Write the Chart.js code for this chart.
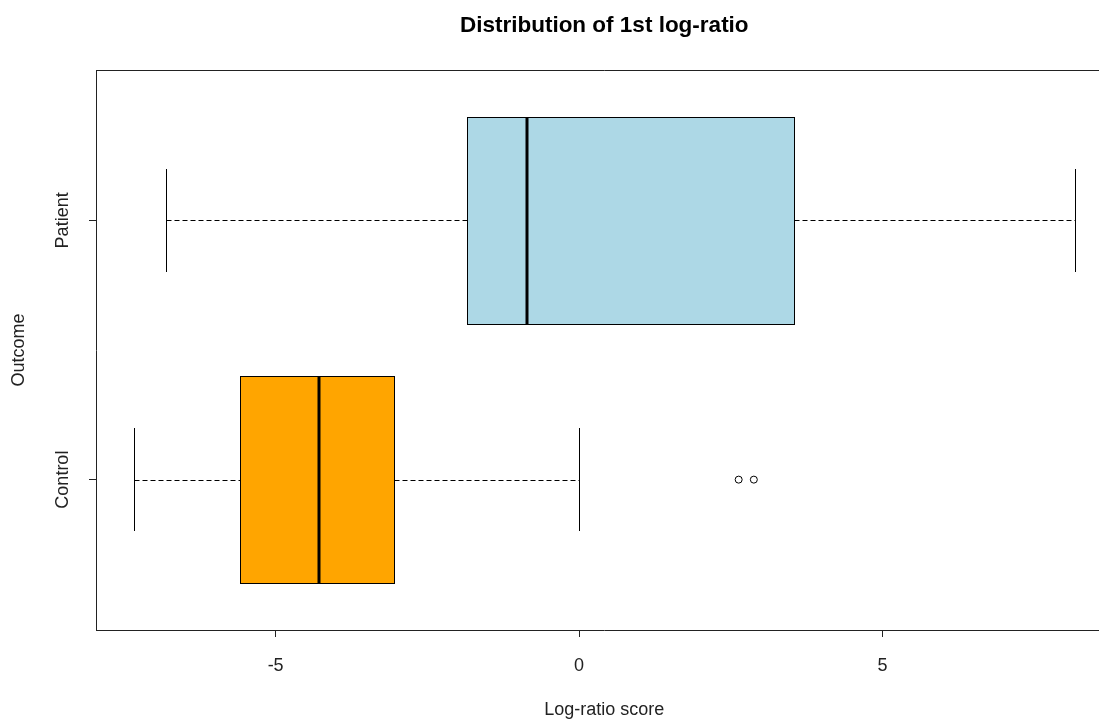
<!DOCTYPE html>
<html>
<head>
<meta charset="utf-8">
<script src="https://cdn.jsdelivr.net/npm/chart.js@4.4.1/dist/chart.umd.min.js"></script>
<style>
  html, body { margin: 0; padding: 0; background: #fff; overflow: hidden; }
</style>
</head>
<body>
<canvas id="box" width="1117" height="719"></canvas>
<script>
(() => {
  // data
  const groups = ["Control", "Patient"];
  const whiskerLow = [-7.34, -6.81];
  const q1 = [-5.58, -1.85];
  const median = [-4.29, -0.86];
  const q3 = [-3.05, 3.54];
  const whiskerHigh = [0.0, 8.17];
  const boxColors = ["#FFA500", "#ADD8E6"];
  const outlierValues = [2.63, 2.88];
  const outlierGroup = ["Control", "Control"];
  const xTicks = [-5, 0, 5];
  const chartTitle = "Distribution of 1st log-ratio";

  const BOX_HALF = 0.4;
  const STAPLE_HALF = 0.2;
  const FONT = "'Liberation Sans', Arial, sans-serif";
  const crisp = (v) => Math.round(v) + 0.5;

  // boxes, whiskers, staples, medians, top frame line and the title (centred over the plot like R)
  const boxPlugin = {
    id: "boxes",
    beforeDatasetsDraw: (chart) => {
      const { ctx, chartArea, scales: { x, y } } = chart;
      ctx.save();
      ctx.fillStyle = "#000";
      ctx.font = "bold 22.5px " + FONT;
      ctx.textAlign = "center";
      ctx.textBaseline = "alphabetic";
      ctx.fillText(chartTitle, (chartArea.left + chartArea.right) / 2, 32);

      ctx.strokeStyle = "#222";
      ctx.lineWidth = 1;
      ctx.beginPath();
      ctx.moveTo(chartArea.left, crisp(chartArea.top));
      ctx.lineTo(chartArea.right, crisp(chartArea.top));
      ctx.stroke();

      groups.forEach((g, i) => {
        const pos = i + 1;
        const yc = crisp(y.getPixelForValue(pos));
        const yTop = Math.round(y.getPixelForValue(pos + BOX_HALF));
        const yBot = Math.round(y.getPixelForValue(pos - BOX_HALF));
        const sTop = Math.round(y.getPixelForValue(pos + STAPLE_HALF));
        const sBot = Math.round(y.getPixelForValue(pos - STAPLE_HALF));
        const xLo = crisp(x.getPixelForValue(whiskerLow[i]));
        const xQ1 = crisp(x.getPixelForValue(q1[i]));
        const xMed = Math.round(x.getPixelForValue(median[i]));
        const xQ3 = crisp(x.getPixelForValue(q3[i]));
        const xHi = crisp(x.getPixelForValue(whiskerHigh[i]));

        ctx.strokeStyle = "#000";
        ctx.lineWidth = 1;

        // dashed whiskers
        ctx.setLineDash([5, 3]);
        ctx.beginPath();
        ctx.moveTo(xLo, yc); ctx.lineTo(xQ1, yc);
        ctx.moveTo(xQ3, yc); ctx.lineTo(xHi, yc);
        ctx.stroke();
        ctx.setLineDash([]);

        // staples
        ctx.beginPath();
        ctx.moveTo(xLo, sTop); ctx.lineTo(xLo, sBot);
        ctx.moveTo(xHi, sTop); ctx.lineTo(xHi, sBot);
        ctx.stroke();

        // box
        ctx.fillStyle = boxColors[i];
        ctx.fillRect(xQ1, yTop + 0.5, xQ3 - xQ1, yBot - yTop);
        ctx.strokeRect(xQ1, yTop + 0.5, xQ3 - xQ1, yBot - yTop);

        // median
        ctx.lineWidth = 3;
        ctx.beginPath();
        ctx.moveTo(xMed, yTop + 1);
        ctx.lineTo(xMed, yBot);
        ctx.stroke();
      });
      ctx.restore();
    }
  };

  const ctx = document.getElementById("box").getContext("2d");
  new Chart(ctx, {
    type: "scatter",
    data: {
      datasets: [{
        label: "Outliers",
        data: outlierValues.map((v, i) => ({ x: v, y: groups.indexOf(outlierGroup[i]) + 1 })),
        pointStyle: "circle",
        pointRadius: 3.5,
        pointHoverRadius: 3.5,
        borderColor: "#000",
        borderWidth: 1,
        backgroundColor: "rgba(0,0,0,0)"
      }]
    },
    options: {
      responsive: false,
      animation: false,
      layout: { padding: { top: 70, left: 0, right: 0, bottom: 0 } },
      plugins: {
        legend: { display: false },
        tooltip: { enabled: false },
        title: { display: false }
      },
      scales: {
        x: {
          type: "linear",
          min: -7.96,
          max: 8.79,
          afterFit: (scale) => {
            scale.height = 89;
            scale.paddingLeft = 0;
            scale.paddingRight = 0;
          },
          afterBuildTicks: (scale) => { scale.ticks = xTicks.map(v => ({ value: v })); },
          grid: { display: true, drawOnChartArea: false, drawTicks: true, tickLength: 7, color: "#222" },
          border: { display: true, color: "#222", width: 1 },
          ticks: {
            color: "#222",
            padding: 18,
            font: { family: FONT, size: 18, lineHeight: 1.2 }
          },
          title: {
            display: true,
            text: "Log-ratio score",
            color: "#222",
            padding: { top: 0, bottom: 0 },
            font: { family: FONT, size: 18, lineHeight: 1 }
          }
        },
        y: {
          type: "linear",
          min: 0.42,
          max: 2.58,
          afterFit: (scale) => {
            scale.width = 96;
            scale.paddingTop = 0;
            scale.paddingBottom = 0;
          },
          afterBuildTicks: (scale) => { scale.ticks = groups.map((g, i) => ({ value: i + 1 })); },
          grid: { display: true, drawOnChartArea: false, drawTicks: true, tickLength: 7, color: "#222" },
          border: { display: true, color: "#222", width: 1 },
          ticks: {
            color: "#222",
            padding: -3,
            minRotation: 90,
            maxRotation: 90,
            crossAlign: "center",
            font: { family: FONT, size: 18, lineHeight: 1.2 },
            callback: (v) => groups[Math.round(v) - 1] || ""
          },
          title: {
            display: true,
            text: "Outcome",
            color: "#222",
            padding: { top: 10, bottom: 0 },
            font: { family: FONT, size: 18, lineHeight: 1 }
          }
        }
      }
    },
    plugins: [boxPlugin]
  });
})();
</script>
</body>
</html>
